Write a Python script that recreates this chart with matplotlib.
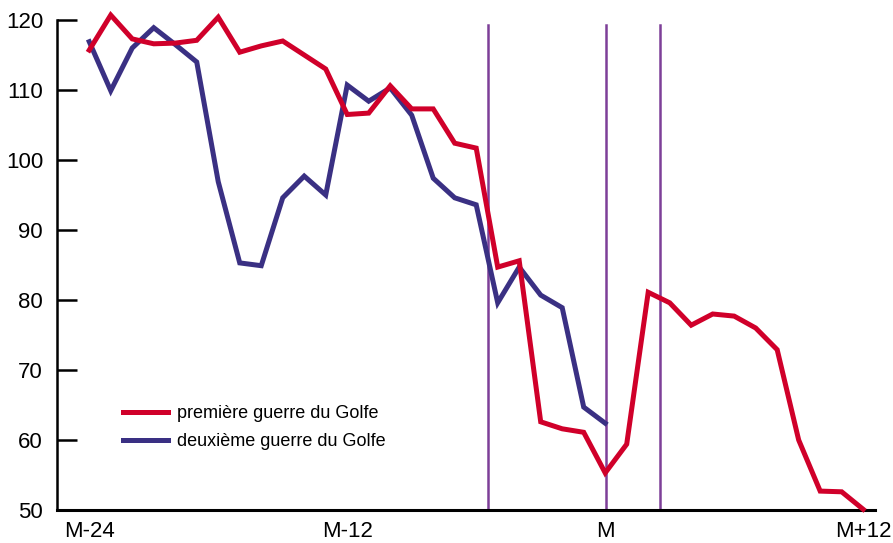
import matplotlib
matplotlib.use('Agg')
import matplotlib.pyplot as plt

plt.rcParams['font.family'] = ['Liberation Sans Narrow', 'Liberation Sans', 'DejaVu Sans']

# months from M-24 to M+12 (index 0 = M-24, 24 = M)
months = list(range(37))
first_war = [115.7, 120.7, 117.3, 116.6, 116.7, 117.1, 120.4, 115.4, 116.3, 117.0,
             115.0, 113.0, 106.5, 106.7, 110.6, 107.3, 107.3, 102.4, 101.7, 84.7,
             85.6, 62.6, 61.6, 61.1, 55.3, 59.4, 81.1, 79.6, 76.4, 78.0,
             77.7, 76.0, 72.9, 60.0, 52.7, 52.6, 50.1]
second_war = [116.9, 109.9, 116.0, 118.9, 116.5, 114.0, 96.9, 85.3, 84.9, 94.6,
              97.7, 95.0, 110.7, 108.4, 110.3, 106.4, 97.4, 94.6, 93.6, 79.6,
              84.7, 80.7, 78.9, 64.7, 62.4]
event_months = [18.55, 24.05, 26.55]
tick_pos = [0, 12, 24, 36]
tick_labels = ['M-24', 'M-12', 'M', 'M+12']
y_ticks = [50, 60, 70, 80, 90, 100, 110, 120]

red = '#D0002A'
blue = '#3A3083'
purple = '#7D3F98'

fig = plt.figure(figsize=(8.93, 5.43), dpi=100)
ax = fig.add_axes([57 / 893, 33 / 543, 818 / 893, 490 / 543])

for xv in event_months:
    ax.plot([xv, xv], [50, 119.3], color=purple, lw=1.8, zorder=1, clip_on=False)

ax.plot(months, first_war, color=red, lw=3.6, solid_joinstyle='miter',
        label='première guerre du Golfe', zorder=3, clip_on=False)
ax.plot(months[:len(second_war)], second_war, color=blue, lw=3.6, solid_joinstyle='miter',
        label='deuxième guerre du Golfe', zorder=2, clip_on=False)

ax.set_xlim(-1.5, 36.55)
ax.set_ylim(50, 120)
ax.set_xticks(tick_pos)
ax.set_xticklabels(tick_labels)
ax.set_yticks(y_ticks)

for s in ['top', 'right']:
    ax.spines[s].set_visible(False)
ax.spines['left'].set_linewidth(1.8)
ax.spines['bottom'].set_linewidth(2.2)

ax.tick_params(axis='y', direction='in', length=14.5, width=1.8, pad=10,
               labelsize=16, colors='black')
ax.tick_params(axis='x', length=0, pad=8, labelsize=16)

ax.legend(loc='upper left', bbox_to_anchor=((123 - 57) / 818, (510 - 405) / 490),
          frameon=False, fontsize=13, handlelength=2.5, handletextpad=0.5,
          labelspacing=0.62, borderpad=0, borderaxespad=0)

fig.savefig('out.png', dpi=100)
